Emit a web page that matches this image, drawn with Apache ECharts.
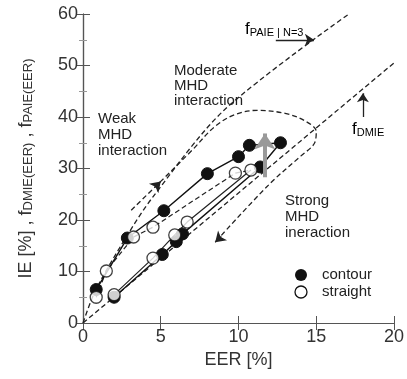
<!DOCTYPE html>
<html><head><meta charset="utf-8">
<script src="https://cdn.jsdelivr.net/npm/echarts@6/dist/echarts.min.js"></script>
<style>html,body{margin:0;padding:0;background:#fff}#c{width:407px;height:379px}</style>
</head><body><div id="c"></div>
<script>
// axis ranges / ticks
const xRange=[0,20], xStep=5;
const yRange=[0,60], yStep=10;
// contour (filled) measurements
const contour=[[0.85,6.5],[2.85,16.5],[5.2,21.8],[8.0,29.0],[10.0,32.3],[10.7,34.5],[12.7,35.0],[11.4,30.3],[6.4,17.3],[6.0,15.8],[5.1,13.3],[2.0,5.0]];
// straight (open) measurements: upper and lower branch
const straightUp=[[0.85,5.0],[1.5,10.1],[3.25,16.7],[4.5,18.6],[9.8,29.1],[10.8,29.7]];
const straightDown=[[10.8,29.7],[6.7,19.6],[5.9,17.1],[4.5,12.6],[2.0,5.5]];
// model lines
const fDMIE=[[0,0],[20,50.5]];
const fPAIE=[[0,0],[0.8,6.3],[2.8,16.8],[4.5,24.5],[9.1,41.4],[17.1,60]];
// interaction loop (dashed)
const loop=[[3.1,21.9],[5.0,27.5],[7.0,33.5],[8.5,38.2],[9.8,40.5],[11.2,41.3],[13.0,40.7],[14.3,39.2],[15.0,37.2],[14.9,35.0],[14.0,32.4],[12.0,27.0],[8.5,15.7]];
// arrow heads on the loop (tail -> head)
const loopArrowUp=[[4.6,26.3],[5.0,27.5]];
const loopArrowDown=[[8.9,16.8],[8.5,15.7]];
// arrows
const grayArrow=[[11.7,28.3],[11.7,36.8]];
const paieArrow=[[12.4,55],[14.85,55]];
const dmieArrow=[[18.0,40.0],[18.0,44.6]];

const chart=echarts.init(document.getElementById('c'),null,{renderer:'canvas'});
const FONT='Liberation Sans, Arial, sans-serif';
const axisCol='#555';
const txtCol='#333';
function arrow(coords,color,width,size,z){
  return {type:'lines',coordinateSystem:'cartesian2d',silent:true,
    symbol:['none','arrow'],symbolSize:size,
    lineStyle:{color:color,width:width,type:'solid',opacity:1,curveness:0},
    data:[{coords:coords}],z:z||5};
}
const subRich={
  f:{fontSize:17,fontFamily:FONT,color:'#222'},
  s:{fontSize:11,fontFamily:FONT,color:'#222',verticalAlign:'bottom',padding:[6,0,0,0]}
};
const dash={color:'#222',width:1.3,type:[5,3]};
chart.setOption({
  animation:false,
  grid:{left:83,right:8,top:14,bottom:56},
  xAxis:[{type:'value',min:xRange[0],max:xRange[1],interval:xStep,
    name:'EER [%]',nameLocation:'middle',nameGap:26,
    nameTextStyle:{fontSize:18,fontFamily:FONT,color:txtCol},
    axisLine:{lineStyle:{color:axisCol,width:1.2}},
    axisTick:{inside:true,length:7,lineStyle:{color:axisCol}},
    axisLabel:{fontSize:18,fontFamily:FONT,color:txtCol,margin:5},
    splitLine:{show:false}},
   {type:'value',position:'top',min:xRange[0],max:xRange[1],interval:xStep,
    axisLine:{show:true,lineStyle:{color:axisCol,width:1.2}},
    axisTick:{inside:true,length:7,lineStyle:{color:axisCol}},
    axisLabel:{show:false},splitLine:{show:false}}],
  yAxis:[{type:'value',min:yRange[0],max:yRange[1],interval:yStep,
    name:'{n|IE [%] , f}{s|DMIE(EER)}{n| , f}{s|PAIE(EER)}',
    nameLocation:'middle',nameGap:48,nameRotate:90,
    nameTextStyle:{rich:{n:{fontSize:18,fontFamily:FONT,color:txtCol},
                         s:{fontSize:13,fontFamily:FONT,color:txtCol,verticalAlign:'bottom'}}},
    axisLine:{lineStyle:{color:axisCol,width:1.2}},
    axisTick:{inside:true,length:7,lineStyle:{color:axisCol}},
    minorTick:{show:true,splitNumber:2,length:4,lineStyle:{color:'#999'}},
    axisLabel:{fontSize:18,fontFamily:FONT,color:txtCol,margin:5},
    splitLine:{show:false}},
   {type:'value',position:'right',min:yRange[0],max:yRange[1],interval:yStep,
    axisLine:{show:true,lineStyle:{color:axisCol,width:1.2}},
    axisTick:{inside:true,length:7,lineStyle:{color:axisCol}},
    minorTick:{show:true,splitNumber:2,length:4,lineStyle:{color:'#999'}},
    axisLabel:{show:false},splitLine:{show:false}}],
  series:[
    {type:'line',data:fDMIE,symbol:'none',lineStyle:dash,z:2,silent:true},
    {type:'line',data:fPAIE,symbol:'none',smooth:0.3,lineStyle:dash,z:2,silent:true},
    {type:'line',data:loop,symbol:'none',smooth:0.35,lineStyle:dash,z:2,silent:true},
    arrow(loopArrowUp,'#222',1.3,[0,10],4),
    arrow(loopArrowDown,'#222',1.3,[0,10],4),
    {type:'line',data:straightUp,symbol:'none',lineStyle:{color:'#222',width:1.2,type:[5,3]},z:3},
    {type:'line',data:straightDown,symbol:'none',lineStyle:{color:'#222',width:1.2},z:3},
    {name:'contour',type:'line',data:contour,symbol:'circle',symbolSize:12,
      itemStyle:{color:'#111',borderColor:'#111'},lineStyle:{color:'#111',width:1.4},z:6},
    {name:'straight',type:'scatter',data:straightUp.concat(straightDown.slice(1)),symbol:'circle',symbolSize:12,
      itemStyle:{color:'#fff',borderColor:'#111',borderWidth:1.3},z:7},
    arrow(grayArrow,'#9a9a9a',4,[0,16],8),
    arrow(paieArrow,'#222',1.3,[0,9]),
    arrow(dmieArrow,'#222',1.3,[0,9])
  ],
  graphic:[
    {type:'text',left:245,top:21,style:{text:'{f|f}{s|PAIE | N=3}',rich:subRich}},
    {type:'text',left:352,top:121,style:{text:'{f|f}{s|DMIE}',rich:subRich}},
    {type:'text',left:174,top:63,style:{text:'Moderate\nMHD\ninteraction',fontSize:15,lineHeight:15,fontFamily:FONT,fill:'#222'}},
    {type:'text',left:98,top:111,style:{text:'Weak\nMHD\ninteraction',fontSize:15,lineHeight:16,fontFamily:FONT,fill:'#222'}},
    {type:'text',left:285,top:193,style:{text:'Strong\nMHD\nineraction',fontSize:15,lineHeight:16,fontFamily:FONT,fill:'#222'}},
    {type:'circle',shape:{cx:301,cy:275,r:6},style:{fill:'#111'}},
    {type:'circle',shape:{cx:301,cy:292,r:6},style:{fill:'#fff',stroke:'#111',lineWidth:1.3}},
    {type:'text',left:322,top:267,style:{text:'contour',fontSize:15,fontFamily:FONT,fill:'#222'}},
    {type:'text',left:322,top:284,style:{text:'straight',fontSize:15,fontFamily:FONT,fill:'#222'}}
  ]
});
</script></body></html>
